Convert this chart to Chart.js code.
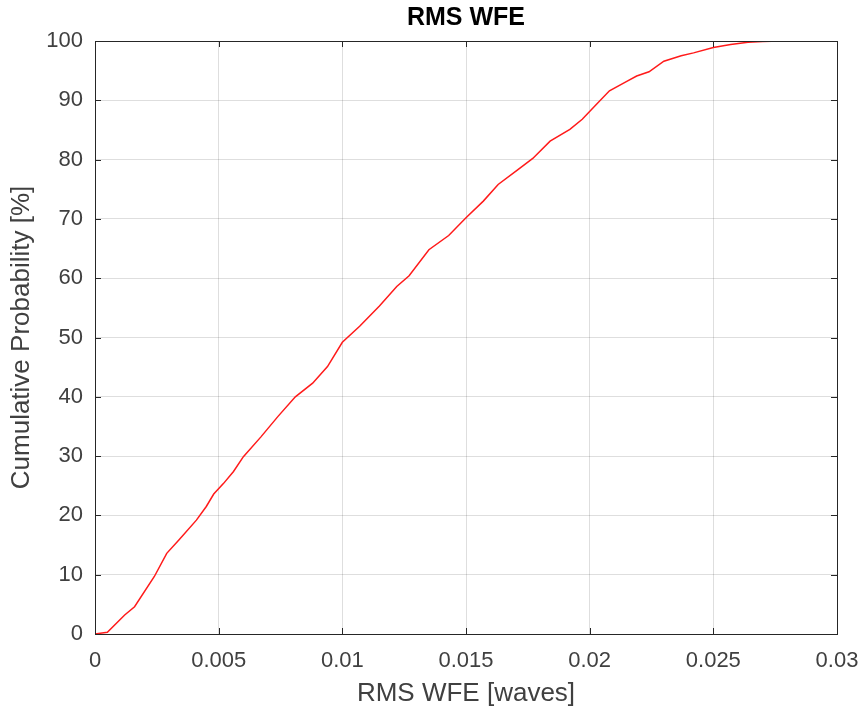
<!DOCTYPE html>
<html lang="en">
<head>
    <meta charset="UTF-8">
    <title>RMS WFE</title>
    <script src="https://cdn.jsdelivr.net/npm/chart.js"></script>
    <style>
        body {
            margin: 0;
            padding: 0;
            background: #ffffff;
        }
        .chart-box {
            width: 867px;
            height: 713px;
            position: relative;
        }
    </style>
</head>
<body>
    <div class="chart-box">
        <canvas id="cdf"></canvas>
    </div>
    <script>
        // RMS wavefront error [waves] and cumulative probability [%]
        const rmsWfe = [0, 0.0005, 0.0012, 0.0016, 0.0024, 0.0029, 0.0034, 0.0041, 0.0045, 0.0048,
            0.0052, 0.0056, 0.006, 0.0067, 0.0074, 0.0081, 0.0088, 0.0094, 0.01, 0.0107,
            0.0115, 0.0122, 0.0127, 0.0135, 0.0143, 0.015, 0.0157, 0.0163, 0.0171, 0.0177,
            0.0184, 0.0192, 0.0197, 0.0202, 0.0208, 0.0215, 0.0219, 0.0224, 0.023, 0.0237,
            0.0242, 0.025, 0.0257, 0.0264, 0.027, 0.0277, 0.0285, 0.0296];
        const cumProb = [0, 0.3, 3.2, 4.6, 9.7, 13.6, 15.9, 19.2, 21.5, 23.6,
            25.4, 27.4, 29.9, 33.2, 36.7, 40.0, 42.3, 45.1, 49.2, 51.9,
            55.3, 58.6, 60.4, 64.8, 67.2, 70.2, 73.0, 75.8, 78.3, 80.2,
            83.1, 85.1, 86.8, 89.0, 91.6, 93.2, 94.1, 94.8, 96.6, 97.5,
            98.0, 98.9, 99.4, 99.8, 99.9, 100, 100, 100];

        const xTickLabels = ['0', '0.005', '0.01', '0.015', '0.02', '0.025', '0.03'];
        const yTickLabels = ['0', '10', '20', '30', '40', '50', '60', '70', '80', '90', '100'];

        const axisColor = '#262626';
        const textColor = '#404040';

        // MATLAB style box: frame on all four sides with inward tick marks
        const boxFrame = {
            id: 'boxFrame',
            afterDraw(chart) {
                const {ctx, chartArea: a, scales} = chart;
                ctx.save();
                ctx.strokeStyle = axisColor;
                ctx.lineWidth = 1;
                ctx.beginPath();
                scales.x.ticks.forEach(t => {
                    const px = Math.round(scales.x.getPixelForValue(t.value)) + 0.5;
                    ctx.moveTo(px, a.bottom);
                    ctx.lineTo(px, a.bottom - 6);
                    ctx.moveTo(px, a.top);
                    ctx.lineTo(px, a.top + 6);
                });
                scales.y.ticks.forEach(t => {
                    const py = Math.round(scales.y.getPixelForValue(t.value)) + 0.5;
                    ctx.moveTo(a.left, py);
                    ctx.lineTo(a.left + 6, py);
                    ctx.moveTo(a.right, py);
                    ctx.lineTo(a.right - 6, py);
                });
                ctx.stroke();
                ctx.strokeRect(Math.round(a.left) + 0.5, Math.round(a.top) + 0.5,
                    Math.round(a.right - a.left), Math.round(a.bottom - a.top));
                ctx.restore();
            }
        };

        const ctx = document.getElementById('cdf').getContext('2d');
        new Chart(ctx, {
            type: 'line',
            data: {
                datasets: [{
                    label: 'RMS WFE',
                    data: rmsWfe.map((v, i) => ({x: v, y: cumProb[i]})),
                    borderColor: '#ff1a1a',
                    borderWidth: 1.5,
                    pointRadius: 0,
                    tension: 0,
                    fill: false
                }]
            },
            options: {
                responsive: true,
                maintainAspectRatio: false,
                animation: false,
                layout: {
                    padding: {left: 0, right: 30, top: 0, bottom: 0}
                },
                scales: {
                    x: {
                        type: 'linear',
                        min: 0,
                        max: 0.03,
                        afterFit: scale => {
                            scale.height = 79;
                            // let the layout padding alone decide the right edge
                            scale.paddingLeft = 0;
                            scale.paddingRight = 0;
                        },
                        ticks: {
                            stepSize: 0.005,
                            padding: 14,
                            color: textColor,
                            font: {family: 'Liberation Sans', size: 22},
                            maxRotation: 0,
                            callback: value => xTickLabels[Math.round(value / 0.005)]
                        },
                        grid: {
                            color: 'rgba(0, 0, 0, 0.13)',
                            drawTicks: false
                        },
                        border: {display: false},
                        title: {
                            display: true,
                            text: 'RMS WFE [waves]',
                            color: textColor,
                            font: {family: 'Liberation Sans', size: 26},
                            padding: {top: 0, bottom: 4}
                        }
                    },
                    // top axis only carries the plot title, centred over the plot box
                    xTop: {
                        type: 'linear',
                        position: 'top',
                        min: 0,
                        max: 0.03,
                        afterFit: scale => { scale.height = 41; },
                        ticks: {display: false},
                        grid: {display: false, drawTicks: false},
                        border: {display: false},
                        title: {
                            display: true,
                            text: 'RMS WFE',
                            color: '#000000',
                            font: {family: 'Liberation Sans', size: 25, weight: 'bold'},
                            padding: {top: 3, bottom: 0}
                        }
                    },
                    y: {
                        type: 'linear',
                        min: 0,
                        max: 100,
                        afterFit: scale => { scale.width = 95; },
                        ticks: {
                            stepSize: 10,
                            padding: 12,
                            color: textColor,
                            font: {family: 'Liberation Sans', size: 22},
                            callback: value => yTickLabels[Math.round(value / 10)]
                        },
                        grid: {
                            color: 'rgba(0, 0, 0, 0.13)',
                            drawTicks: false
                        },
                        border: {display: false},
                        title: {
                            display: true,
                            text: 'Cumulative Probability [%]',
                            color: textColor,
                            font: {family: 'Liberation Sans', size: 26},
                            padding: {top: 6, bottom: 0}
                        }
                    }
                },
                plugins: {
                    legend: {display: false},
                    tooltip: {enabled: false},
                    title: {display: false}
                }
            },
            plugins: [boxFrame]
        });
    </script>
</body>
</html>
